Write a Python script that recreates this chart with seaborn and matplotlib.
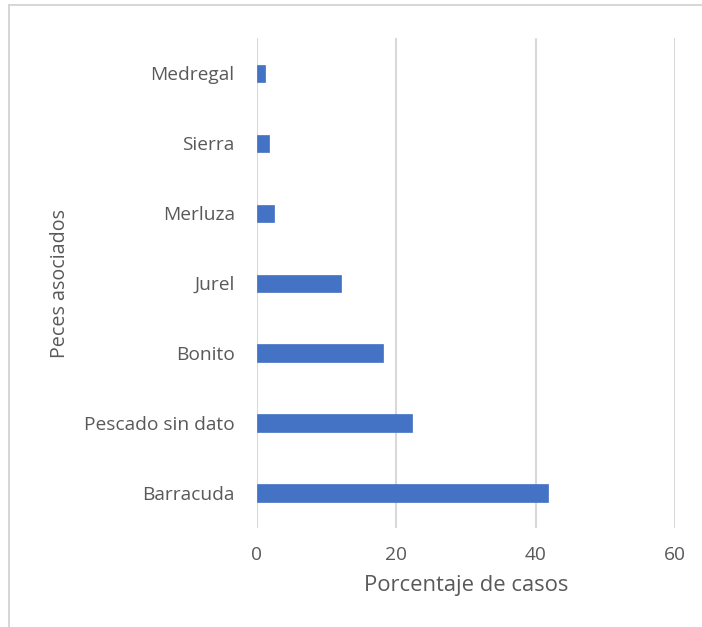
import matplotlib
matplotlib.use("Agg")
import matplotlib.pyplot as plt
import seaborn as sns
import pandas as pd
from matplotlib.lines import Line2D

categories = ["Medregal", "Sierra", "Merluza", "Jurel", "Bonito", "Pescado sin dato", "Barracuda"]
values = [1.2, 1.8, 2.4, 12.1, 18.1, 22.3, 41.8]
xticks = [0, 20, 40, 60]

df = pd.DataFrame({"pez": categories, "pct": values})

sns.set_theme(style="white")
plt.rcParams['font.family'] = ['Open Sans', 'DejaVu Sans']

fig = plt.figure(figsize=(7.02, 6.27), dpi=100)
ax = fig.add_axes([0.366, 0.158, 0.5955, 0.781])

sns.barplot(data=df, x="pct", y="pez", order=categories, orient="h",
            color="#4472C4", width=0.245, saturation=1, ax=ax, zorder=3,
            edgecolor="#4472C4", linewidth=0.5)

ax.set_xlim(0, 60)
ax.set_ylim(6.5, -0.5)
ax.set_xticks(xticks)
ax.set_xticklabels([str(t) for t in xticks])
ax.grid(axis="x", color="#d9d9d9", linewidth=1.5, zorder=0)
ax.grid(axis="y", visible=False)
for s in ax.spines.values():
    s.set_visible(False)
ax.tick_params(axis="both", length=0, labelsize=13.8, colors="#595959")
ax.tick_params(axis="y", pad=16)
ax.tick_params(axis="x", pad=13)
ax.set_xlabel("Porcentaje de casos", fontsize=15.8, color="#595959", labelpad=8)
ax.set_ylabel("Peces asociados", fontsize=14.2, color="#595959")
ax.yaxis.set_label_coords(-0.447, 0.5)

# outer frame lines
fig.add_artist(Line2D([9/702, 9/702], [0, 1 - 5/627], transform=fig.transFigure, color="#d0d0d0", linewidth=1.2))
fig.add_artist(Line2D([9/702, 1], [1 - 5/627, 1 - 5/627], transform=fig.transFigure, color="#d0d0d0", linewidth=1.2))

fig.savefig("out.png", dpi=100)
